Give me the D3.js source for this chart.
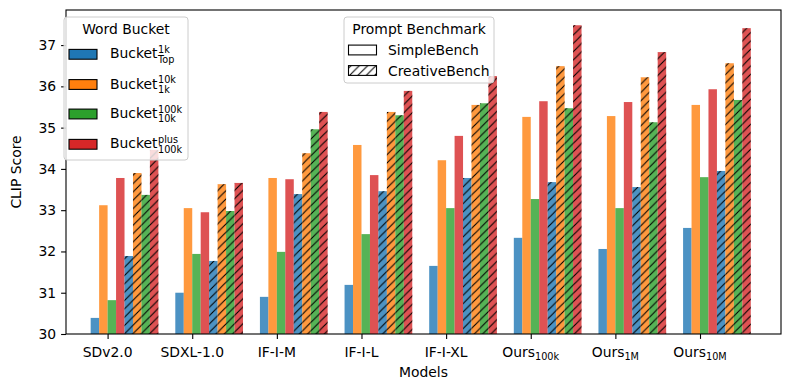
<!DOCTYPE html>
<html><head><meta charset="utf-8">
<script src="https://cdn.jsdelivr.net/npm/d3@7"></script>
<style>body{margin:0;background:#fff} text{font-family:"DejaVu Sans",sans-serif;fill:#000}</style>
</head><body><svg id="c" width="790" height="390"></svg>
<script>
// ---------- data ----------
const modelBase = ["SDv2.0","SDXL-1.0","IF-I-M","IF-I-L","IF-I-XL","Ours","Ours","Ours"];
const modelSub  = ["","","","","","100k","1M","10M"];
const bucketSup = ["1k","10k","100k","plus"];
const bucketSub = ["Top","1k","10k","100k"];
const bucketColors = ["#1f77b4","#ff7f0e","#2ca02c","#d62728"];
const benchNames = ["SimpleBench","CreativeBench"];
const yTicks = [30,31,32,33,34,35,36,37];
// SimpleBench, per bucket (over models)
const simpleB1 = [30.39,31.00,30.90,31.19,31.65,32.33,32.06,32.57];
const simpleB2 = [33.12,33.05,33.78,34.58,34.21,35.26,35.28,35.55];
const simpleB3 = [30.82,31.94,31.99,32.42,33.05,33.27,33.05,33.80];
const simpleB4 = [33.78,32.95,33.75,33.85,34.80,35.64,35.62,35.93];
// CreativeBench, per bucket
const creativeB1 = [31.89,31.77,33.39,33.46,33.78,33.68,33.56,33.95];
const creativeB2 = [33.90,33.63,34.38,35.38,35.55,36.49,36.22,36.56];
const creativeB3 = [33.37,32.98,34.96,35.30,35.59,35.47,35.13,35.67];
const creativeB4 = [34.46,33.66,35.38,35.89,36.25,37.48,36.83,37.41];

const simple = [simpleB1,simpleB2,simpleB3,simpleB4];
const creative = [creativeB1,creativeB2,creativeB3,creativeB4];

// ---------- layout ----------
const svg = d3.select("#c");
const L=66, R=781, T=10, B=334;
const FS = 13.9, SFS = 9.7;
const x = d3.scaleLinear().domain([-0.4915, 7.957]).range([L,R]);
const y = d3.scaleLinear().domain([30, 37.85]).range([B,T]);
const bw = 0.1;

const defs = svg.append("defs");
const hs = 8.333;
const pat = defs.append("pattern").attr("id","hatch").attr("patternUnits","userSpaceOnUse")
  .attr("width",hs).attr("height",hs);
pat.append("path").attr("d",`M0,${hs} L${hs},0 M${-hs/2},${hs/2} L${hs/2},${-hs/2} M${hs/2},${hs*1.5} L${hs*1.5},${hs/2}`)
  .attr("stroke","#000").attr("stroke-width",1.1);
defs.append("clipPath").attr("id","plotclip").append("rect").attr("x",L).attr("y",T).attr("width",R-L).attr("height",B-T);

const bars = [];
for (let b=0;b<4;b++) modelBase.forEach((m,i)=>bars.push({m:i, slot:b, v:simple[b][i], c:bucketColors[b], h:false}));
for (let b=0;b<4;b++) modelBase.forEach((m,i)=>bars.push({m:i, slot:4+b, v:creative[b][i], c:bucketColors[b], h:true}));

const g = svg.append("g").attr("clip-path","url(#plotclip)");
bars.forEach(d=>{
  const x0 = x(d.m + (d.slot-2)*bw), x1 = x(d.m + (d.slot-1)*bw);
  g.append("rect").attr("x",x0).attr("y",y(d.v)).attr("width",x1-x0).attr("height",y(30)-y(d.v))
    .attr("fill",d.c).attr("fill-opacity",0.8);
  if (d.h) g.append("rect").attr("x",x0).attr("y",y(d.v)).attr("width",x1-x0).attr("height",y(30)-y(d.v))
    .attr("fill","url(#hatch)");
});

// axes
const yAxis = d3.axisLeft(y).tickValues(yTicks).tickFormat(d3.format("d")).tickSize(4.9).tickPadding(4.9);
const ya = svg.append("g").attr("transform",`translate(${L},0)`).call(yAxis);
ya.select(".domain").remove();
ya.selectAll("text").attr("font-size",FS).attr("font-family","DejaVu Sans");
ya.selectAll("line").attr("stroke","#000").attr("stroke-width",1.1);

const xAxis = d3.axisBottom(x).tickValues(d3.range(8)).tickFormat("").tickSize(4.9);
const xa = svg.append("g").attr("transform",`translate(0,${B})`).call(xAxis);
xa.select(".domain").remove();
xa.selectAll("line").attr("stroke","#000").attr("stroke-width",1.1);
modelBase.forEach((m,i)=>{
  const t = svg.append("text").attr("x",x(i)).attr("y",B+23).attr("text-anchor","middle").attr("font-size",FS);
  t.append("tspan").text(m);
  if (modelSub[i]) t.append("tspan").attr("font-size",SFS).attr("dy",3).text(modelSub[i]);
});

svg.append("rect").attr("x",L).attr("y",T).attr("width",R-L).attr("height",B-T)
  .attr("fill","none").attr("stroke","#000").attr("stroke-width",1.1);

svg.append("text").attr("x",(L+R)/2).attr("y",377).attr("text-anchor","middle").attr("font-size",FS).text("Models");
svg.append("text").attr("transform",`translate(21,${(T+B)/2}) rotate(-90)`).attr("text-anchor","middle")
  .attr("font-size",FS).text("CLIP Score");

// legend 1
const lg1 = svg.append("g");
lg1.append("rect").attr("x",64).attr("y",17).attr("width",124).attr("height",143).attr("rx",3)
  .attr("fill","#fff").attr("fill-opacity",0.8).attr("stroke","#cccccc").attr("stroke-width",1);
lg1.append("text").attr("x",126).attr("y",34).attr("text-anchor","middle").attr("font-size",FS).text("Word Bucket");
const rowY1 = [54.3,84.5,114,144.3];
bucketColors.forEach((c,i)=>{
  lg1.append("rect").attr("x",69).attr("y",rowY1[i]-4.9).attr("width",28).attr("height",9.8)
    .attr("fill",c).attr("stroke","#000").attr("stroke-width",1.1);
  const t = lg1.append("text").attr("x",110).attr("y",rowY1[i]+4).attr("font-size",FS).text("Bucket");
  const w = t.node().getComputedTextLength();
  lg1.append("text").attr("x",110+w+0.5).attr("y",rowY1[i]-1.5).attr("font-size",SFS).text(bucketSup[i]);
  lg1.append("text").attr("x",110+w+0.5).attr("y",rowY1[i]+8.3).attr("font-size",SFS).text(bucketSub[i]);
});

// legend 2
const lg2 = svg.append("g");
lg2.append("rect").attr("x",344).attr("y",17).attr("width",150).attr("height",66).attr("rx",3)
  .attr("fill","#fff").attr("fill-opacity",0.8).attr("stroke","#cccccc").attr("stroke-width",1);
lg2.append("text").attr("x",419).attr("y",34).attr("text-anchor","middle").attr("font-size",FS).text("Prompt Benchmark");
const rowY2 = [50,70.5];
benchNames.forEach((n,i)=>{
  lg2.append("rect").attr("x",348.5).attr("y",rowY2[i]-4.9).attr("width",28).attr("height",9.8)
    .attr("fill",i ? "url(#hatch)" : "#fff").attr("stroke","#000").attr("stroke-width",1.1);
  lg2.append("text").attr("x",388).attr("y",rowY2[i]+5).attr("font-size",FS).text(n);
});
</script></body></html>
